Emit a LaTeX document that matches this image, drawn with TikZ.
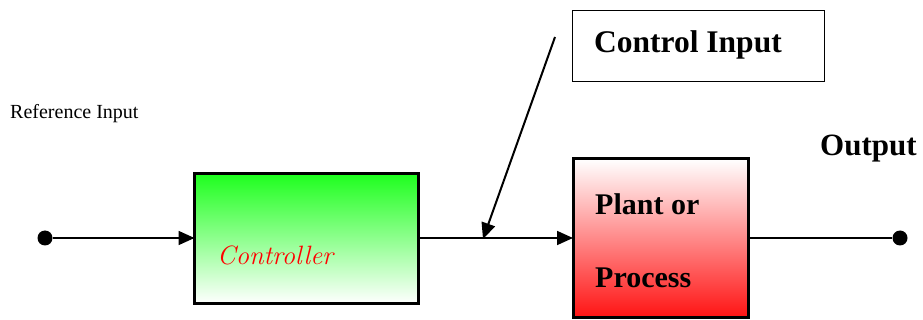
\documentclass[tikz,border=0pt]{standalone}
\usepackage{fontspec}
\setmainfont{Liberation Serif}
\newfontfamily\slantfont{Latin Modern Roman}
\usetikzlibrary{arrows.meta}

\definecolor{ctrlgreen}{RGB}{30,255,30}
\definecolor{plantred}{RGB}{255,20,20}

\tikzset{
  block/.style={draw=black, inner sep=0pt, outer sep=0pt},
  terminal/.style={circle, fill=black, inner sep=0pt, minimum size=15pt},
  tip/.style={-{Triangle[length=16pt,width=14pt]}},
  signal/.style={line width=1.8pt, tip},
  label/.style={inner sep=0pt, anchor=base west},
}

\begin{document}
\begin{tikzpicture}[x=1pt, y=-1pt]
  \useasboundingbox (0,0) rectangle (923,320);

  % blocks
  \node[block, line width=3.5pt, minimum width=224pt, minimum height=130pt,
        top color=ctrlgreen, bottom color=white] (ctrl) at (306.5,238.5) {};
  \node[block, line width=3pt, minimum width=175pt, minimum height=158pt,
        top color=white, bottom color=plantred] (plant) at (660.5,238) {};
  \node[block, line width=1.8pt, minimum width=252pt, minimum height=71pt] (cibox) at (698.5,46) {};

  % terminals
  \node[terminal] (in) at (45,238) {};
  \node[terminal] (out) at (900,238) {};

  % points on the control-input line
  \coordinate (cistart) at (555,37);
  \coordinate (joint) at (483,239);

  % connectors
  \draw[signal] (in) -- (in -| ctrl.west);
  \draw[signal] (ctrl.east |- 0,238) -- (plant.west |- 0,238);
  \draw[line width=1.8pt] (plant.east |- 0,238) -- (out);
  \draw[line width=2pt, tip] (cistart) -- (joint);

  % texts
  \node[label, font=\fontsize{20}{22}\selectfont] (reflbl) at (10,119) {Reference Input};
  \node[label, font=\fontsize{26.5}{28}\selectfont\slantfont\itshape, text=red] (ctrllbl) at (217,265) {Controller};
  \node[label, font=\fontsize{30}{32}\selectfont\bfseries] (plant1) at (595,215) {Plant or};
  \node[label, font=\fontsize{30}{32}\selectfont\bfseries] (plant2) at (595,287.5) {Process};
  \node[label, font=\fontsize{31.5}{33}\selectfont\bfseries] (cilbl) at (594,52.5) {Control Input};
  \node[label, font=\fontsize{31}{33}\selectfont\bfseries] (outlbl) at (820,156) {Output};
\end{tikzpicture}
\end{document}
